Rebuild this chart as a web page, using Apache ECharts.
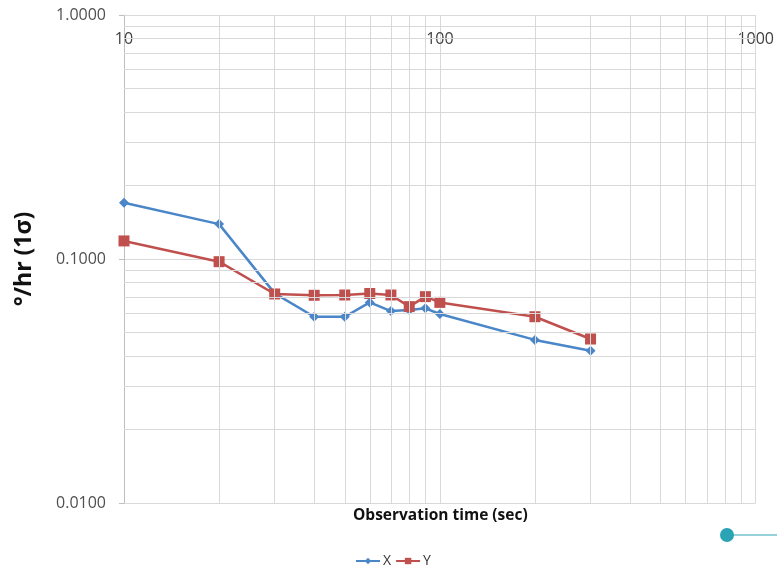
<!DOCTYPE html>
<html>
<head>
<meta charset="utf-8">
<script src="https://cdn.jsdelivr.net/npm/echarts@6/dist/echarts.min.js"></script>
<style>html,body{margin:0;padding:0;background:#fff}#c{width:777px;height:570px}</style>
</head>
<body>
<div id="c"></div>
<script>
var times = [10, 20, 30, 40, 50, 60, 70, 80, 90, 100, 200, 300];
var seriesX = [0.170, 0.139, 0.0723, 0.0580, 0.0580, 0.0664, 0.0612, 0.0618, 0.0628, 0.0595, 0.0466, 0.0421];
var seriesY = [0.1186, 0.0975, 0.0719, 0.0710, 0.0712, 0.0722, 0.0712, 0.0638, 0.0701, 0.0664, 0.0580, 0.0470];
var xMinorGrid = [20, 30, 40, 50, 60, 70, 80, 90, 200, 300, 400, 500, 600, 700, 800, 900];
var yMinorGrid = [0.02, 0.03, 0.04, 0.05, 0.06, 0.07, 0.08, 0.09, 0.2, 0.3, 0.4, 0.5, 0.6, 0.7, 0.8, 0.9];
var xTickLabels = ['10', '100', '1000'];
var yTickLabels = ['0.0100', '0.1000', '1.0000'];

var chart = echarts.init(document.getElementById('c'));
var gridColor = '#d9d9d9';
var minorLines = [];
xMinorGrid.forEach(function (v) { minorLines.push({ xAxis: v }); });
yMinorGrid.forEach(function (v) { minorLines.push({ yAxis: v }); });

chart.setOption({
  animation: false,
  grid: { left: 124, right: 17, top: 15, bottom: 67, containLabel: false },
  xAxis: {
    type: 'log', logBase: 10, min: 10, max: 1000, position: 'top',
    axisLine: { show: true, lineStyle: { color: gridColor } },
    axisTick: { show: false },
    axisLabel: {
      inside: true, margin: 16, color: '#404040', fontSize: 16, fontFamily: 'Open Sans',
      formatter: function (v) {
        var i = Math.round(Math.log10(v)) - 1;
        return xTickLabels[i] !== undefined ? xTickLabels[i] : '';
      }
    },
    splitLine: { show: true, lineStyle: { color: gridColor, width: 1 } }
  },
  yAxis: {
    type: 'log', logBase: 10, min: 0.01, max: 1,
    name: '°/hr (1σ)', nameLocation: 'middle', nameRotate: 90, nameGap: 88,
    nameTextStyle: { fontSize: 23, fontWeight: 'bold', color: '#111', fontFamily: 'Open Sans' },
    axisLine: { show: true, lineStyle: { color: '#bfbfbf' } },
    axisTick: { show: true, length: 5, lineStyle: { color: '#bfbfbf' } },
    axisLabel: {
      margin: 18, color: '#505050', fontSize: 16, fontFamily: 'Open Sans',
      formatter: function (v) {
        var i = Math.round(Math.log10(v)) + 2;
        return yTickLabels[i] !== undefined ? yTickLabels[i] : '';
      }
    },
    splitLine: { show: true, lineStyle: { color: gridColor, width: 1 } }
  },
  legend: {
    top: 549, left: 350, itemWidth: 24, itemHeight: 8, itemGap: 4,
    textStyle: { fontSize: 14, color: '#333', fontFamily: 'Open Sans', padding: [0, 0, 0, -2] },
    data: ['X', 'Y']
  },
  graphic: [
    { type: 'text', left: 353, top: 508, style: { text: 'Observation time (sec)', fontSize: 15.5, fontWeight: 'bold', fill: '#111', fontFamily: 'Open Sans' } },
    { type: 'line', shape: { x1: 727, y1: 535, x2: 777, y2: 535 }, style: { stroke: '#2aa3b5', lineWidth: 1.2 } },
    { type: 'circle', shape: { cx: 727, cy: 535, r: 7 }, style: { fill: '#2aa3b5' } }
  ],
  series: [
    {
      name: 'grid-minor', type: 'line', data: [], silent: true,
      markLine: { silent: true, symbol: 'none', label: { show: false }, lineStyle: { color: gridColor, type: 'solid', width: 1 }, data: minorLines }
    },
    {
      name: 'X', type: 'line', data: times.map(function (t, i) { return [t, seriesX[i]]; }),
      symbol: 'diamond', symbolSize: 10,
      lineStyle: { color: '#4a86c8', width: 2.5 }, itemStyle: { color: '#4a86c8', borderWidth: 0 }
    },
    {
      name: 'Y', type: 'line', data: times.map(function (t, i) { return [t, seriesY[i]]; }),
      symbol: 'rect', symbolSize: 11,
      lineStyle: { color: '#c0504d', width: 2.5 }, itemStyle: { color: '#c0504d', borderWidth: 0 }
    }
  ]
});
</script>
</body>
</html>
